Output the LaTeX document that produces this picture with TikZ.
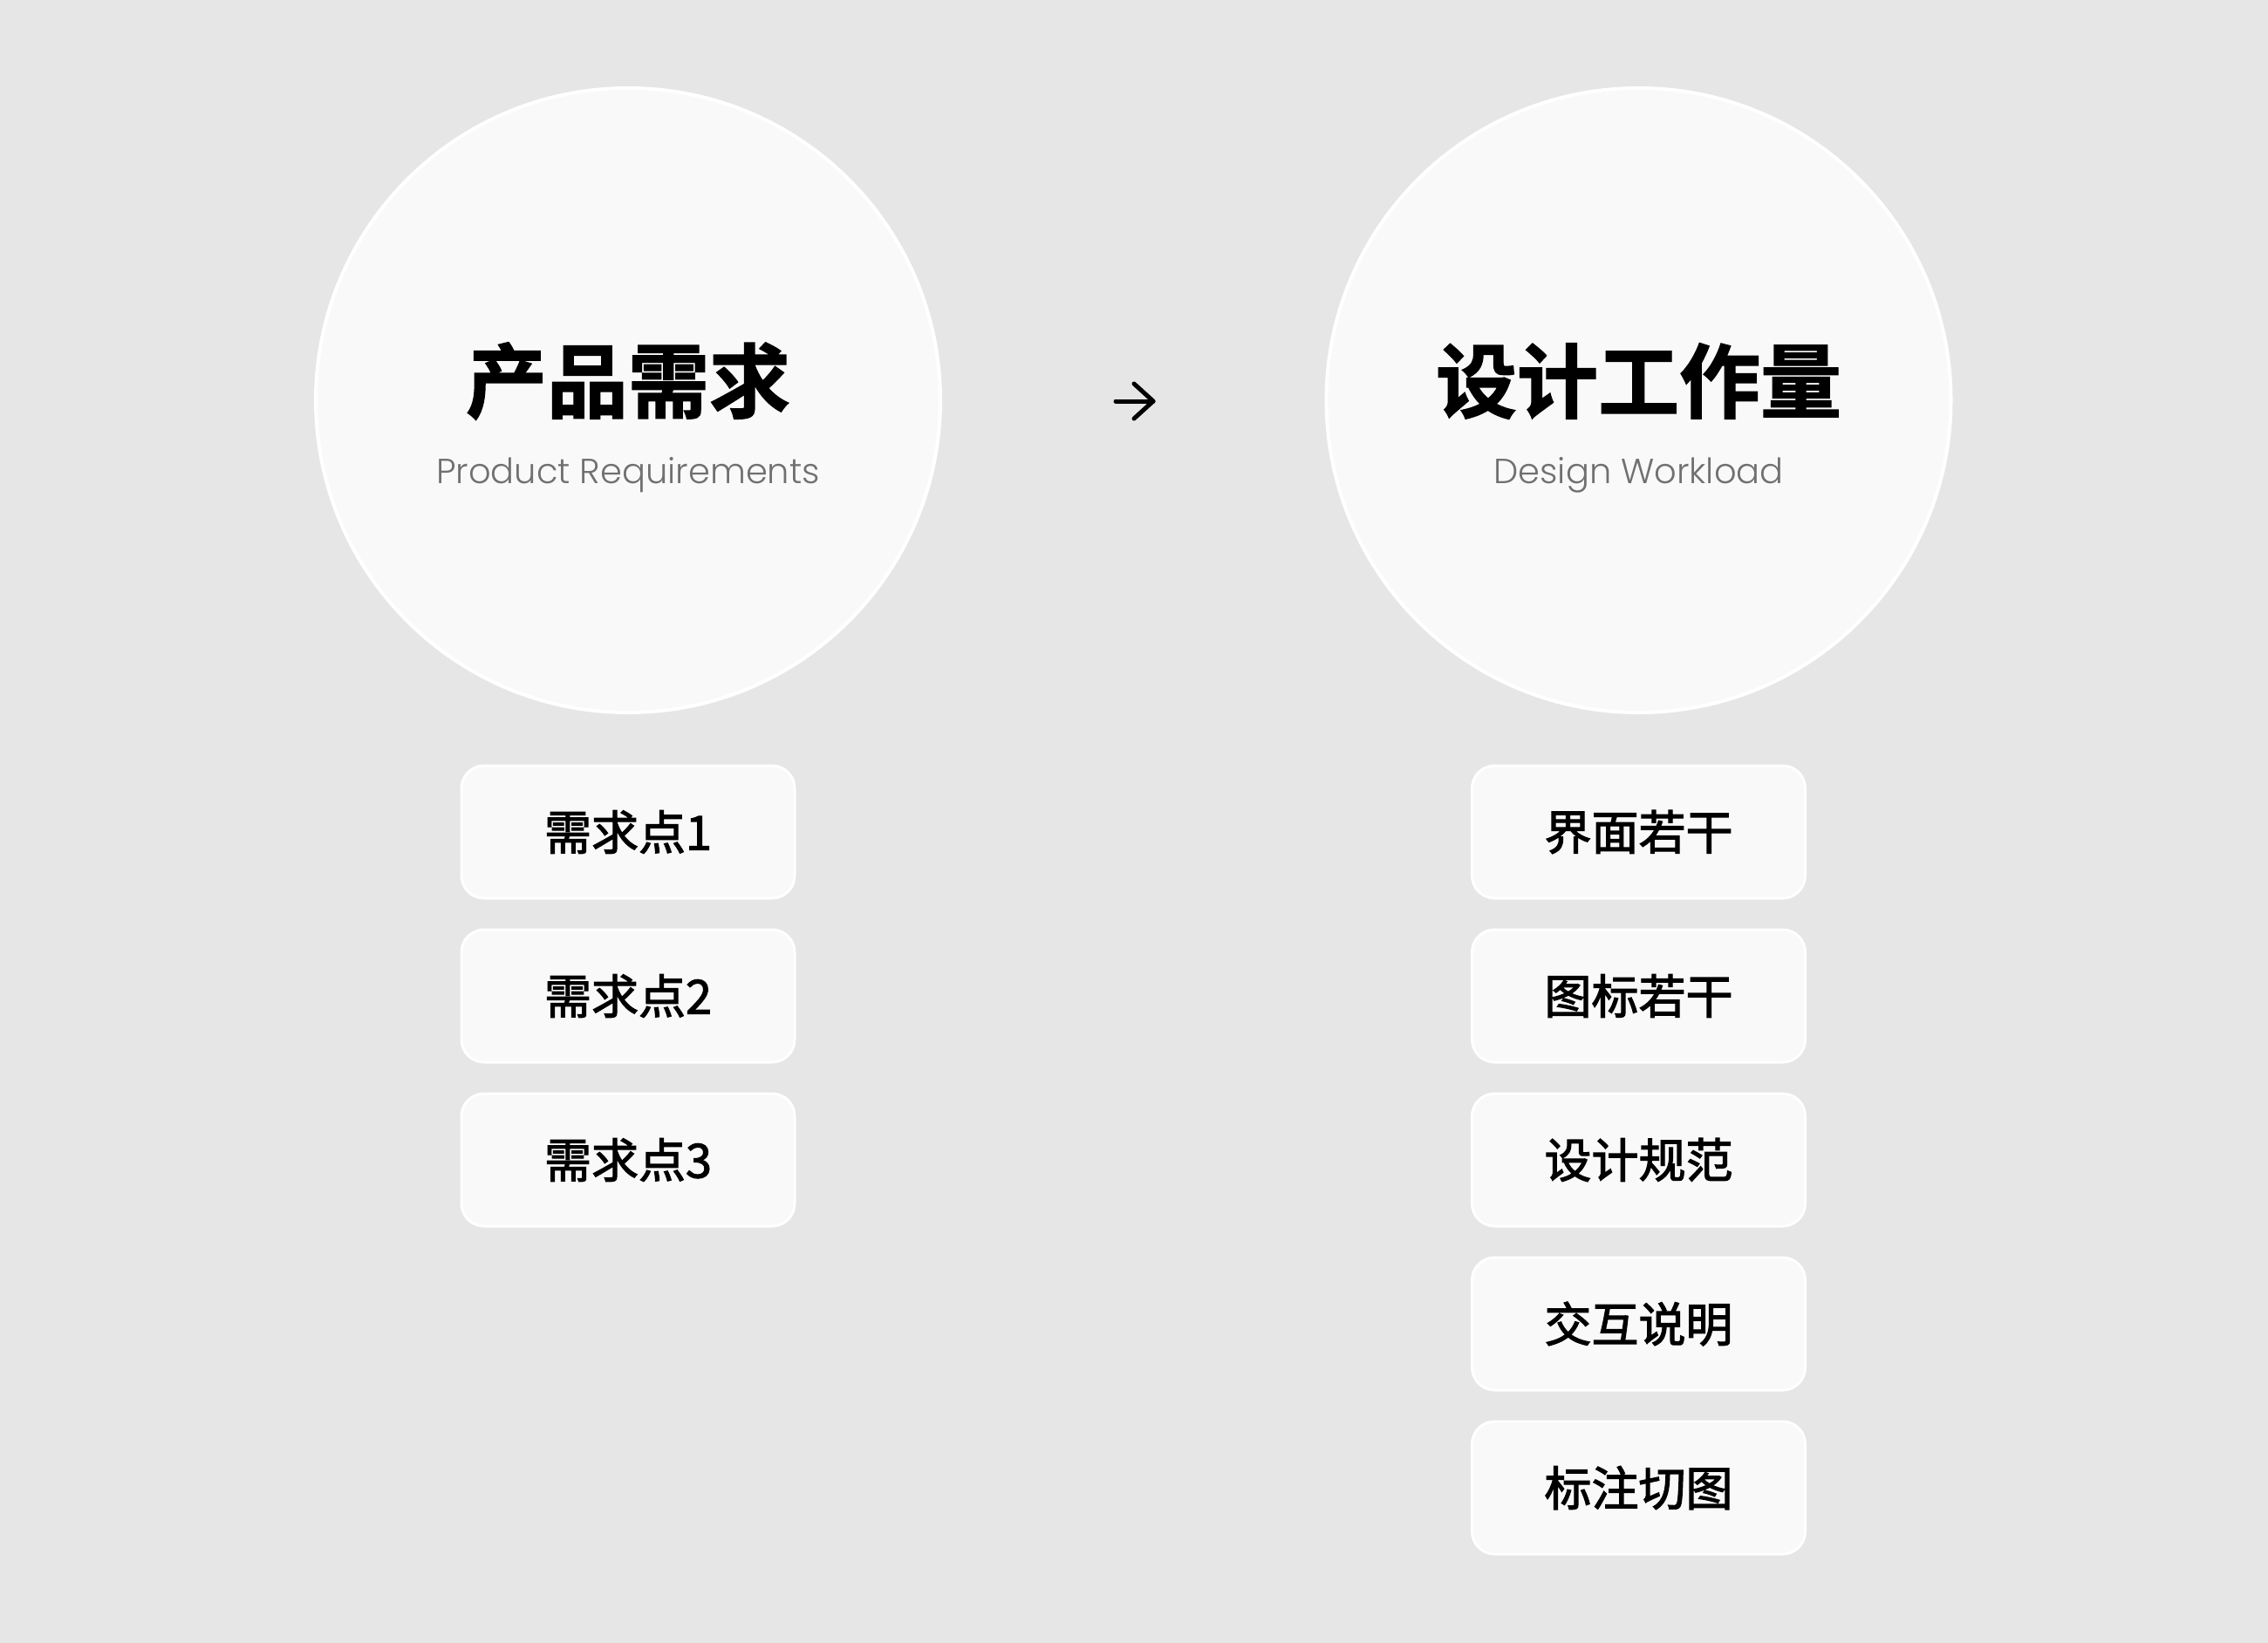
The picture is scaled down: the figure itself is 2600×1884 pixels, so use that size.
\documentclass[tikz,border=0pt]{standalone}
\usepackage{fontspec}
\newfontfamily\cjktitle[FakeBold=1.5]{Noto Sans CJK SC Bold}
\newfontfamily\cjkbox[FakeBold=2.2]{Noto Sans CJK SC}
\newfontfamily\subfont{Poppins}[UprightFont=* Light]
\definecolor{bgc}{HTML}{E6E6E6}
\definecolor{cardc}{HTML}{F9F9F9}
\definecolor{subc}{HTML}{707070}
\begin{document}
\begin{tikzpicture}[x=1pt,y=-1pt,
  circ/.style={circle,fill=cardc,draw=white,line width=4pt,minimum size=716pt,inner sep=0pt},
  card/.style={rounded corners=26pt,fill=cardc,draw=white,line width=3pt,minimum width=382pt,minimum height=152pt,inner sep=0pt},
  titletext/.style={inner sep=0pt,font=\cjktitle\fontsize{93}{100}\selectfont,text=black},
  subtext/.style={inner sep=0pt,anchor=base,font=\subfont\fontsize{40}{48}\selectfont,text=subc},
  cardtext/.style={inner sep=0pt,font=\cjkbox\fontsize{54}{60}\selectfont,text=black},
  arrowline/.style={line width=5pt,line cap=round,line join=round,black}]
\fill[bgc] (0,0) rectangle (2600,1884);
\useasboundingbox (0,0) rectangle (2600,1884);

% circles
\node[circ] (cl) at (720,459) {};
\node[circ] (cr) at (1878.5,459) {};
\node[titletext] (tl) at (720,437) {产品需求};
\node[titletext] (tr) at (1878.5,437) {设计工作量};
\node[subtext] (sl) at (720,554) {Product Requirements};
\node[subtext] (sr) at (1878.5,554) {Design Workload};

% arrow
\coordinate (as) at (1279,460);
\coordinate (ae) at (1322,460);
\draw[arrowline] (as) -- (ae);
\draw[arrowline] ([shift={(-22,-20)}]ae) -- (ae) -- ([shift={(-22,20)}]ae);

% left cards
\foreach \t [count=\i] in {需求点1,需求点2,需求点3}{
  \node[card] (L\i) at (720,{954+188*(\i-1)}) {};
  \node[cardtext] (LT\i) at (L\i) {\t};
}
% right cards
\foreach \t [count=\i] in {界面若干,图标若干,设计规范,交互说明,标注切图}{
  \node[card] (R\i) at (1878.5,{954+188*(\i-1)}) {};
  \node[cardtext] (RT\i) at (R\i) {\t};
}
\end{tikzpicture}
\end{document}
